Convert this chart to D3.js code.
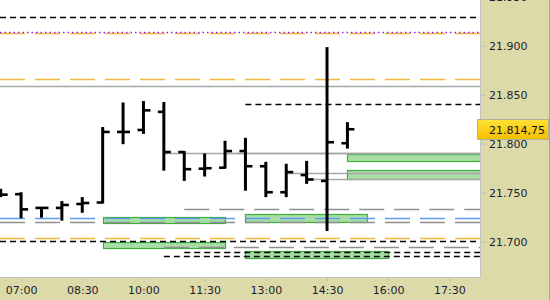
<!DOCTYPE html>
<html>
<head>
<meta charset="utf-8">
<script src="https://cdn.jsdelivr.net/npm/d3@7/dist/d3.min.js"></script>
<style>
body { margin: 0; background: #fff; }
svg { display: block; }
</style>
</head>
<body>
<div id="chart-container"></div>
<script>
// 30 minute OHLC bars
const times  = ["06:30","07:00","07:30","08:00","08:30","09:00","09:30","10:00","10:30",
                "11:00","11:30","12:00","12:30","13:00","13:30","14:00","14:30","15:00"];
const opens  = [21748, 21748.5, 21734.5, 21734.5, 21738.5, 21740, 21812, 21814, 21832.5,
                21791.5, 21774.5, 21775.5, 21792.5, 21777, 21750.5, 21768, 21762, 21800.5];
const highs  = [21754, 21750.5, 21735.5, 21741.5, 21745.5, 21817, 21842, 21843.5, 21842.5,
                21792.5, 21790, 21803, 21806, 21781.5, 21779.5, 21782.5, 21898.5, 21822];
const lows   = [21745.5, 21724, 21724.5, 21721.5, 21729.5, 21739, 21799.5, 21810, 21772.5,
                21762, 21766.5, 21774.5, 21752, 21745.5, 21745.5, 21759, 21711, 21795];
const closes = [21748, 21733, 21734.5, 21737.5, 21739.5, 21812, 21812, 21834, 21791.5,
                21774, 21775, 21792.5, 21777, 21750.5, 21771, 21763.5, 21801.5, 21814.75];

// horizontal levels (value, start time, kind)
const levelValue = [21929.3, 21913.7, 21912.7, 21865.7, 21858.9, 21840.5, 21791, 21791,
                    21769.8, 21764, 21733, 21723.9, 21719.8, 21703.5, 21700.4, 21695.1, 21689.8, 21685.1];
const levelFrom  = ["06:29","06:29","06:29","06:29","06:29","12:30","10:30","12:00",
                    "13:30","14:00","11:00","06:29","06:29","06:29","06:29","10:30","11:00","10:30"];
const levelKind  = ["black","purple","orange","orange","graySolid","black","graySolid","graySolid",
                    "graySolid","graySolid","grayDash","blue","grayDash","orange","black","grayDash","black","black"];

// green zones
const zoneFrom = ["09:00","12:30","09:00","12:30","15:00","15:00"];
const zoneTo   = ["12:00","15:30","12:00","16:00","18:15","18:15"];
const zoneHigh = [21724.9, 21728.3, 21699.7, 21690.8, 21789.5, 21772.9];
const zoneLow  = [21718.8, 21720.4, 21693.9, 21684.1, 21782.4, 21763.9];

// axis ticks
const priceTicks = [21700, 21750, 21800, 21850, 21900, 21950];
const timeTicks = ["07:00","08:30","10:00","11:30","13:00","14:30","16:00","17:30"];
const lastPrice = 21814.75;

const width = 550, height = 300;
const plotW = 480, plotH = 277;

const parseTime = d3.timeParse("%H:%M");
const de = d3.formatLocale({decimal: ",", thousands: ".", grouping: [3], currency: ["", ""]});

const x = d3.scaleTime().domain([parseTime("06:29"), parseTime("18:15")]).range([0, plotW]);
const y = d3.scaleLinear().domain([21664, 21946.6]).range([plotH, 0]);

const svg = d3.select("#chart-container")
  .append("svg")
  .attr("width", width)
  .attr("height", height)
  .style("font-family", "DejaVu Sans, Verdana, sans-serif");

// backgrounds
svg.append("rect").attr("width", width).attr("height", height).attr("fill", "#dddaa9");
svg.append("rect").attr("width", plotW).attr("height", plotH).attr("fill", "#fff");

svg.append("clipPath").attr("id", "clip")
  .append("rect").attr("width", plotW).attr("height", plotH);

const plot = svg.append("g").attr("clip-path", "url(#clip)");

// zones
plot.selectAll(".zone")
  .data(zoneFrom.map((d, i) => ({from: parseTime(d), to: parseTime(zoneTo[i]), hi: zoneHigh[i], lo: zoneLow[i]})))
  .join("rect")
  .attr("x", d => Math.round(x(d.from)) + 0.5)
  .attr("y", d => Math.round(y(d.hi)) + 0.5)
  .attr("width", d => Math.round(x(d.to) - x(d.from)))
  .attr("height", d => Math.round(y(d.lo) - y(d.hi)))
  .attr("fill", "#a8dea5")
  .attr("stroke", "#3caf3c")
  .attr("stroke-width", 1.2);

// level lines
const styles = {
  black:     {stroke: "#000",    width: 1.6, dash: "6,4"},
  purple:    {stroke: "#9a1cf0", width: 1.6, dash: "1.5,3"},
  orange:    {stroke: "#f5b942", width: 1.5, dash: "25,10"},
  graySolid: {stroke: "#a8a8a8", width: 1.6, dash: null},
  grayDash:  {stroke: "#8f8f8f", width: 1.5, dash: "25,10"},
  blue:      {stroke: "#5c9cf5", width: 1.5, dash: "25,10"}
};

// draw orange under purple
const order = levelValue.map((d, i) => i).sort((a, b) => (levelKind[a] === "purple") - (levelKind[b] === "purple"));

plot.selectAll(".level")
  .data(order.map(i => ({v: levelValue[i], from: parseTime(levelFrom[i]), s: styles[levelKind[i]]})))
  .join("line")
  .attr("x1", d => x(d.from))
  .attr("x2", plotW)
  .attr("y1", d => Math.round(y(d.v)) + 0.5)
  .attr("y2", d => Math.round(y(d.v)) + 0.5)
  .attr("stroke", d => d.s.stroke)
  .attr("stroke-width", d => d.s.width)
  .attr("stroke-dasharray", d => d.s.dash);

// OHLC bars
const bars = times.map((t, i) => ({t: parseTime(t), o: opens[i], h: highs[i], l: lows[i], c: closes[i]}));

const bar = plot.selectAll(".bar").data(bars).join("g")
  .attr("stroke", "#000")
  .attr("stroke-width", 3);

bar.append("line")
  .attr("x1", d => x(d.t)).attr("x2", d => x(d.t))
  .attr("y1", d => y(d.h)).attr("y2", d => y(d.l));
bar.append("line")
  .attr("x1", d => x(d.t) - 6).attr("x2", d => x(d.t))
  .attr("y1", d => y(d.o)).attr("y2", d => y(d.o))
  .attr("stroke-width", 2.6);
bar.append("line")
  .attr("x1", d => x(d.t)).attr("x2", d => x(d.t) + 7)
  .attr("y1", d => y(d.c)).attr("y2", d => y(d.c))
  .attr("stroke-width", 2.6);

// plot borders
svg.append("line").attr("x1", plotW + 0.5).attr("x2", plotW + 0.5).attr("y1", 0).attr("y2", plotH + 1)
  .attr("stroke", "#c4c4c4");
svg.append("line").attr("x1", 0).attr("x2", plotW + 1).attr("y1", plotH + 0.5).attr("y2", plotH + 0.5)
  .attr("stroke", "#c4c4c4");
svg.append("line").attr("x1", width - 0.5).attr("x2", width - 0.5).attr("y1", 0).attr("y2", height)
  .attr("stroke", "#a9a78c");

// right price axis
svg.append("g")
  .attr("transform", `translate(${plotW + 1},0)`)
  .style("font-size", "11px")
  .call(d3.axisRight(y)
    .tickValues(priceTicks)
    .tickFormat(de.format(",.0f"))
    .tickSize(4)
    .tickPadding(4))
  .call(g => g.select(".domain").remove())
  .call(g => g.selectAll(".tick line").attr("stroke", "#bdbdbd"))
  .call(g => g.selectAll(".tick text").attr("fill", "#1c1c2c").style("font-family", "DejaVu Sans, Verdana, sans-serif"));

// bottom time axis
svg.append("g")
  .attr("transform", `translate(0,${plotH + 1})`)
  .style("font-size", "11px")
  .call(d3.axisBottom(x)
    .tickValues(timeTicks.map(parseTime))
    .tickFormat(d3.timeFormat("%H:%M"))
    .tickSize(3)
    .tickPadding(5))
  .call(g => g.select(".domain").remove())
  .call(g => g.selectAll(".tick line").attr("stroke", "#bdbdbd"))
  .call(g => g.selectAll(".tick text").attr("fill", "#1c1c2c").style("font-family", "DejaVu Sans, Verdana, sans-serif"));

// last price label
const grad = svg.append("defs").append("linearGradient")
  .attr("id", "gold").attr("x1", 0).attr("x2", 0).attr("y1", 0).attr("y2", 1);
grad.append("stop").attr("offset", "0%").attr("stop-color", "#ffe135");
grad.append("stop").attr("offset", "100%").attr("stop-color", "#f4bf00");

const ly = Math.round(y(lastPrice));
svg.append("rect")
  .attr("x", 477.5).attr("y", ly - 9.5)
  .attr("width", 71).attr("height", 20)
  .attr("fill", "url(#gold)")
  .attr("stroke", "#b5b09a");

svg.append("text")
  .attr("x", 489)
  .attr("y", ly + 4.5)
  .style("font-size", "11px")
  .attr("fill", "#111")
  .text(de.format(",.2f")(lastPrice));
</script>
</body>
</html>
